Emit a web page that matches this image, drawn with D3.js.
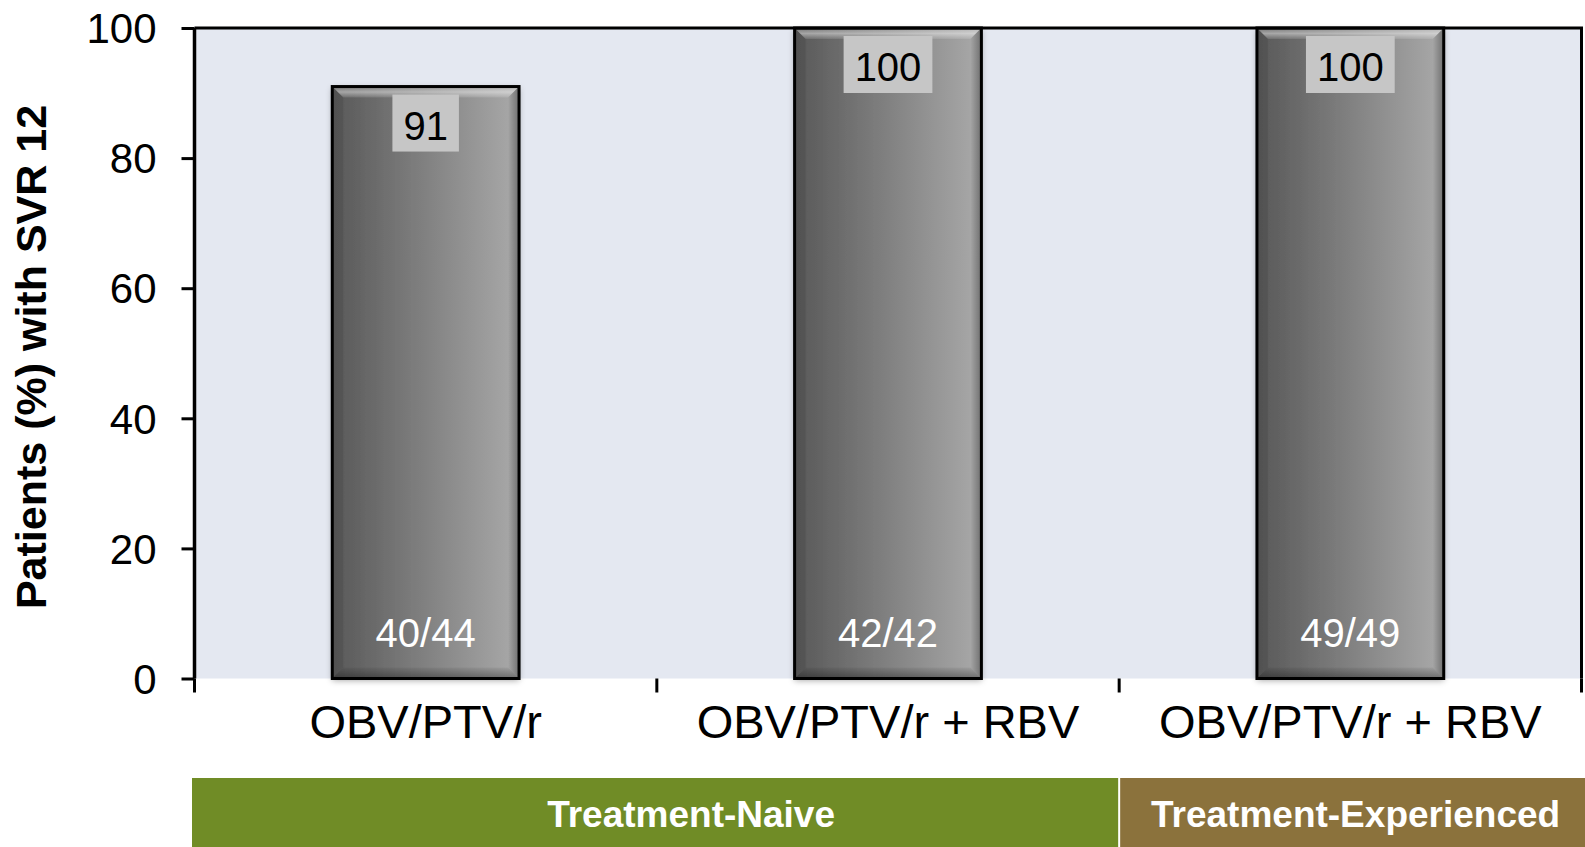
<!DOCTYPE html>
<html>
<head>
<meta charset="utf-8">
<script src="https://cdn.jsdelivr.net/npm/d3@7"></script>
<style>
  html, body { margin: 0; padding: 0; background: #ffffff; }
  svg { display: block; font-family: "Liberation Sans", Arial, Helvetica, sans-serif; }
</style>
</head>
<body>
<svg id="chart" width="1585" height="847"></svg>
<script>
// ---- data ----
const categories = ["OBV/PTV/r", "OBV/PTV/r + RBV", "OBV/PTV/r + RBV"];
const values = [91, 100, 100];
const nLabels = ["40/44", "42/42", "49/49"];
const yTicks = [0, 20, 40, 60, 80, 100];
const groupLabels = ["Treatment-Naive", "Treatment-Experienced"];
const groupSizes = [2, 1];
const groupColors = ["#708c26", "#8b723c"];
const yTitle = "Patients (%) with SVR 12";

// ---- layout ----
const W = 1585, H = 847;
const plot = { left: 194.5, right: 1581.5, top: 28, bottom: 678.5 };
const svg = d3.select("#chart");
const defs = svg.append("defs");

const x = d3.scaleBand()
  .domain(d3.range(categories.length))
  .range([plot.left, plot.right])
  .paddingInner(0.596)
  .paddingOuter(0.298);
const y = d3.scaleLinear().domain([0, 100]).range([plot.bottom, plot.top]);

// gradients / filters
const g1 = defs.append("linearGradient").attr("id", "barGrad")
  .attr("x1", "0").attr("y1", "0").attr("x2", "1").attr("y2", "0");
g1.append("stop").attr("offset", "0").attr("stop-color", "#585858");
g1.append("stop").attr("offset", "1").attr("stop-color", "#aaaaaa");

const gTop = defs.append("linearGradient").attr("id", "topGrad")
  .attr("x1", "0").attr("y1", "0").attr("x2", "0").attr("y2", "1");
gTop.append("stop").attr("offset", "0").attr("stop-color", "#ffffff").attr("stop-opacity", 0.15);
gTop.append("stop").attr("offset", "0.5").attr("stop-color", "#ffffff").attr("stop-opacity", 0.45);
gTop.append("stop").attr("offset", "1").attr("stop-color", "#ffffff").attr("stop-opacity", 0.1);

const gRight = defs.append("linearGradient").attr("id", "rightGrad")
  .attr("x1", "0").attr("y1", "0").attr("x2", "1").attr("y2", "0");
gRight.append("stop").attr("offset", "0").attr("stop-color", "#000").attr("stop-opacity", 0.0);
gRight.append("stop").attr("offset", "1").attr("stop-color", "#000").attr("stop-opacity", 0.35);

const gBot = defs.append("linearGradient").attr("id", "botGrad")
  .attr("x1", "0").attr("y1", "0").attr("x2", "0").attr("y2", "1");
gBot.append("stop").attr("offset", "0").attr("stop-color", "#000").attr("stop-opacity", 0.05);
gBot.append("stop").attr("offset", "1").attr("stop-color", "#000").attr("stop-opacity", 0.35);

const shadow = defs.append("filter").attr("id", "shadow")
  .attr("x", "-20%").attr("y", "-20%").attr("width", "140%").attr("height", "140%");
shadow.append("feDropShadow").attr("dx", 0).attr("dy", 2).attr("stdDeviation", 3)
  .attr("flood-color", "#000").attr("flood-opacity", 0.35);

// plot background
svg.append("rect")
  .attr("x", plot.left).attr("y", plot.top)
  .attr("width", plot.right - plot.left).attr("height", plot.bottom - plot.top)
  .attr("fill", "#e4e8f1");

// bars
const bars = svg.append("g").selectAll("g.bar").data(values).join("g").attr("class", "bar");
bars.each(function(v, i) {
  const g = d3.select(this);
  const x0 = x(i), x1 = x(i) + x.bandwidth();
  const y0 = y(v), y1 = y(0);
  const b = 11;
  g.append("rect").attr("x", x0).attr("y", y0).attr("width", x1 - x0).attr("height", y1 - y0)
    .attr("fill", "url(#barGrad)").attr("filter", "url(#shadow)");
  // bevels
  g.append("path").attr("d", `M${x0},${y0}L${x1},${y0}L${x1 - b},${y0 + b}L${x0 + b},${y0 + b}Z`)
    .attr("fill", "url(#topGrad)");
  g.append("path").attr("d", `M${x1},${y0}L${x1},${y1}L${x1 - b},${y1 - b}L${x1 - b},${y0 + b}Z`)
    .attr("fill", "url(#rightGrad)");
  g.append("path").attr("d", `M${x0},${y1}L${x1},${y1}L${x1 - b},${y1 - b}L${x0 + b},${y1 - b}Z`)
    .attr("fill", "url(#botGrad)");
  g.append("path").attr("d", `M${x0},${y0}L${x0 + b},${y0 + b}L${x0 + b},${y1 - b}L${x0},${y1}Z`)
    .attr("fill", "#000").attr("fill-opacity", 0.08);
  g.append("rect").attr("x", x0).attr("y", y0).attr("width", x1 - x0).attr("height", y1 - y0)
    .attr("fill", "none").attr("stroke", "#000").attr("stroke-width", 3);
});

// value label boxes
bars.each(function(v, i) {
  const g = d3.select(this);
  const cx = x(i) + x.bandwidth() / 2;
  const top = y(v) + 8;
  const box = g.append("rect").attr("fill", "#c6c6c6");
  const t = g.append("text").attr("x", cx).attr("y", top + 45)
    .attr("text-anchor", "middle").attr("font-size", 40).attr("fill", "#000").text(v);
  const tw = t.node().getComputedTextLength();
  box.attr("x", cx - tw / 2 - 11).attr("y", top).attr("width", tw + 22).attr("height", 57);
  g.append("text").attr("x", cx).attr("y", y(0) - 32)
    .attr("text-anchor", "middle").attr("font-size", 40).attr("fill", "#ffffff").text(nLabels[i]);
});

// frame top/right
svg.append("path")
  .attr("d", `M${plot.left},${plot.top}H${plot.right}V${plot.bottom}`)
  .attr("fill", "none").attr("stroke", "#000").attr("stroke-width", 3);

// x axis line with shadow
svg.append("line").attr("x1", plot.left).attr("x2", plot.right)
  .attr("y1", plot.bottom).attr("y2", plot.bottom)
  .attr("stroke", "#000").attr("stroke-width", 3.5).attr("filter", "url(#shadow)");

// x boundary ticks
const boundaries = d3.range(categories.length + 1).map(i => plot.left + i * x.step());
svg.append("g").selectAll("line").data(boundaries).join("line")
  .attr("x1", d => d).attr("x2", d => d)
  .attr("y1", plot.bottom).attr("y2", plot.bottom + 14)
  .attr("stroke", "#000").attr("stroke-width", 3);

// x labels
svg.append("g").selectAll("text").data(categories).join("text")
  .attr("x", (d, i) => x(i) + x.bandwidth() / 2)
  .attr("y", 738)
  .attr("text-anchor", "middle").attr("font-size", 47).attr("fill", "#000")
  .text(d => d);

// y axis
const yAxis = d3.axisLeft(y).tickValues(yTicks).tickSize(13).tickPadding(25).tickFormat(d3.format("d"));
const yg = svg.append("g").attr("transform", `translate(${plot.left},0)`).call(yAxis);
yg.select(".domain").attr("stroke", "#000").attr("stroke-width", 3.5)
  .attr("d", `M0,${plot.top}V${plot.bottom}`);
yg.selectAll(".tick line").attr("stroke", "#000").attr("stroke-width", 3);
yg.selectAll(".tick text").attr("font-size", 42).attr("fill", "#000")
  .attr("font-family", "Liberation Sans, Arial, sans-serif").attr("dy", "0.35em");

// y title
svg.append("text")
  .attr("transform", `translate(46,357) rotate(-90)`)
  .attr("text-anchor", "middle").attr("font-size", 43).attr("font-weight", "bold")
  .attr("fill", "#000").text(yTitle);

// group bands
let start = 0;
const bandTop = 778;
const groupData = groupLabels.map((lab, gi) => {
  const s = start; start += groupSizes[gi];
  return { lab, s, e: start, color: groupColors[gi] };
});
groupData.forEach((gd, gi) => {
  const xs = gd.s === 0 ? plot.left - 2.5 : boundaries[gd.s] + 1;
  const xe = gd.e === categories.length ? W : boundaries[gd.e] - 1;
  svg.append("rect").attr("x", xs).attr("y", bandTop).attr("width", xe - xs).attr("height", H - bandTop)
    .attr("fill", gd.color);
  const cx = gi === 0 ? (xs + xe) / 2 + 36 : (xs + xe) / 2 + 3;
  svg.append("text").attr("x", cx).attr("y", 826.5)
    .attr("text-anchor", "middle").attr("font-size", 37).attr("font-weight", "bold")
    .attr("fill", "#ffffff").text(gd.lab);
});
</script>
</body>
</html>
